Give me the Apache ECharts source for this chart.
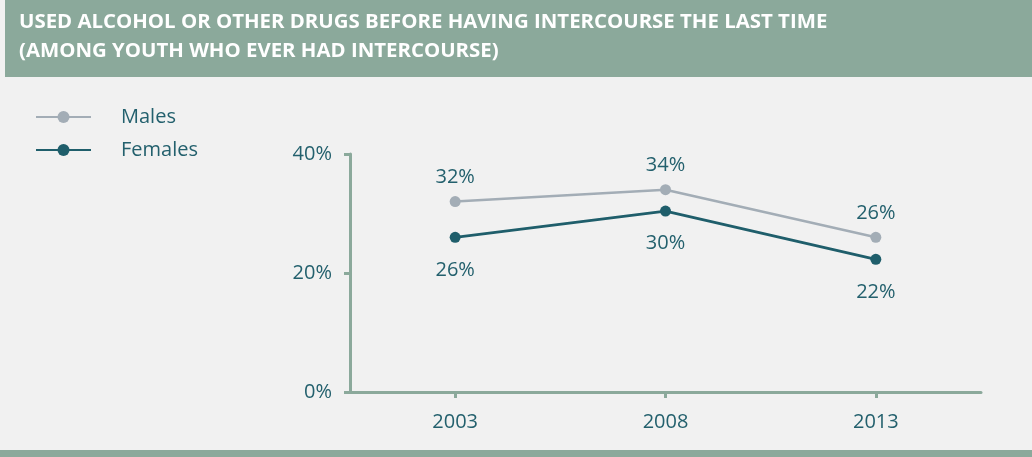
<!DOCTYPE html>
<html>
<head>
<meta charset="utf-8">
<script src="https://cdn.jsdelivr.net/npm/echarts@6/dist/echarts.min.js"></script>
<style>
html,body{margin:0;padding:0;background:#f1f1f1;}
#c{width:1032px;height:457px;}
</style>
</head>
<body>
<div id="c"></div>
<script>
const years = ['2003', '2008', '2013'];
const males = [32, 34, 26];
const females = [26, 30.4, 22.3];
const yTicks = [0, 20, 40];
const titleLines = ['USED ALCOHOL OR OTHER DRUGS BEFORE HAVING INTERCOURSE THE LAST TIME', '(AMONG YOUTH WHO EVER HAD INTERCOURSE)'];

const teal = '#1f5e6b';
const textTeal = '#23606d';
const grey = '#a3adb6';
const band = '#8ba99b';
const font = '"Open Sans", "Noto Sans", sans-serif';

const chart = echarts.init(document.getElementById('c'), null, {renderer: 'canvas'});
chart.setOption({
  backgroundColor: '#f1f1f1',
  animation: false,
  graphic: [
    {type: 'rect', shape: {x: 5, y: 0, width: 1027, height: 77}, style: {fill: band}, silent: true},
    {type: 'rect', shape: {x: 0, y: 450, width: 1032, height: 7}, style: {fill: band}, silent: true},
    {type: 'text', left: 19, top: 8, style: {text: titleLines.join('\n'), fill: '#ffffff', font: 'bold 20.4px ' + font, lineHeight: 28.5}, silent: true}
  ],
  legend: {
    orient: 'vertical',
    left: 35,
    top: 107,
    padding: 0,
    itemWidth: 55,
    itemHeight: 15,
    itemGap: 13,
    textStyle: {color: textTeal, fontSize: 20, lineHeight: 20, fontFamily: font, padding: [0, 0, 0, 25]},
    data: ['Males', 'Females']
  },
  grid: {left: 350, right: 51, top: 154, bottom: 65, containLabel: false},
  xAxis: {
    type: 'category',
    data: years,
    boundaryGap: true,
    axisLine: {lineStyle: {color: band, width: 3}},
    axisTick: {show: true, alignWithLabel: true, length: 6, lineStyle: {color: band, width: 3}},
    axisLabel: {color: textTeal, fontSize: 20, fontFamily: font, margin: 20}
  },
  yAxis: {
    type: 'value',
    min: yTicks[0],
    max: yTicks[yTicks.length - 1],
    interval: yTicks[1] - yTicks[0],
    splitLine: {show: false},
    axisLine: {show: true, lineStyle: {color: band, width: 3}},
    axisTick: {show: true, length: 6, lineStyle: {color: band, width: 3}},
    axisLabel: {color: textTeal, fontSize: 20, fontFamily: font, margin: 18, formatter: v => v + '%'}
  },
  series: [
    {
      name: 'Males', type: 'line', data: males,
      symbol: 'circle', symbolSize: 11,
      lineStyle: {color: grey, width: 2.5},
      itemStyle: {color: grey},
      label: {show: true, position: 'top', distance: 9, color: textTeal, fontSize: 20, fontFamily: font, formatter: p => Math.round(p.value) + '%'}
    },
    {
      name: 'Females', type: 'line', data: females,
      symbol: 'circle', symbolSize: 11,
      lineStyle: {color: teal, width: 2.8},
      itemStyle: {color: teal},
      label: {show: true, position: 'bottom', distance: 17, color: textTeal, fontSize: 20, fontFamily: font, formatter: p => Math.round(p.value) + '%'}
    }
  ]
});
</script>
</body>
</html>
